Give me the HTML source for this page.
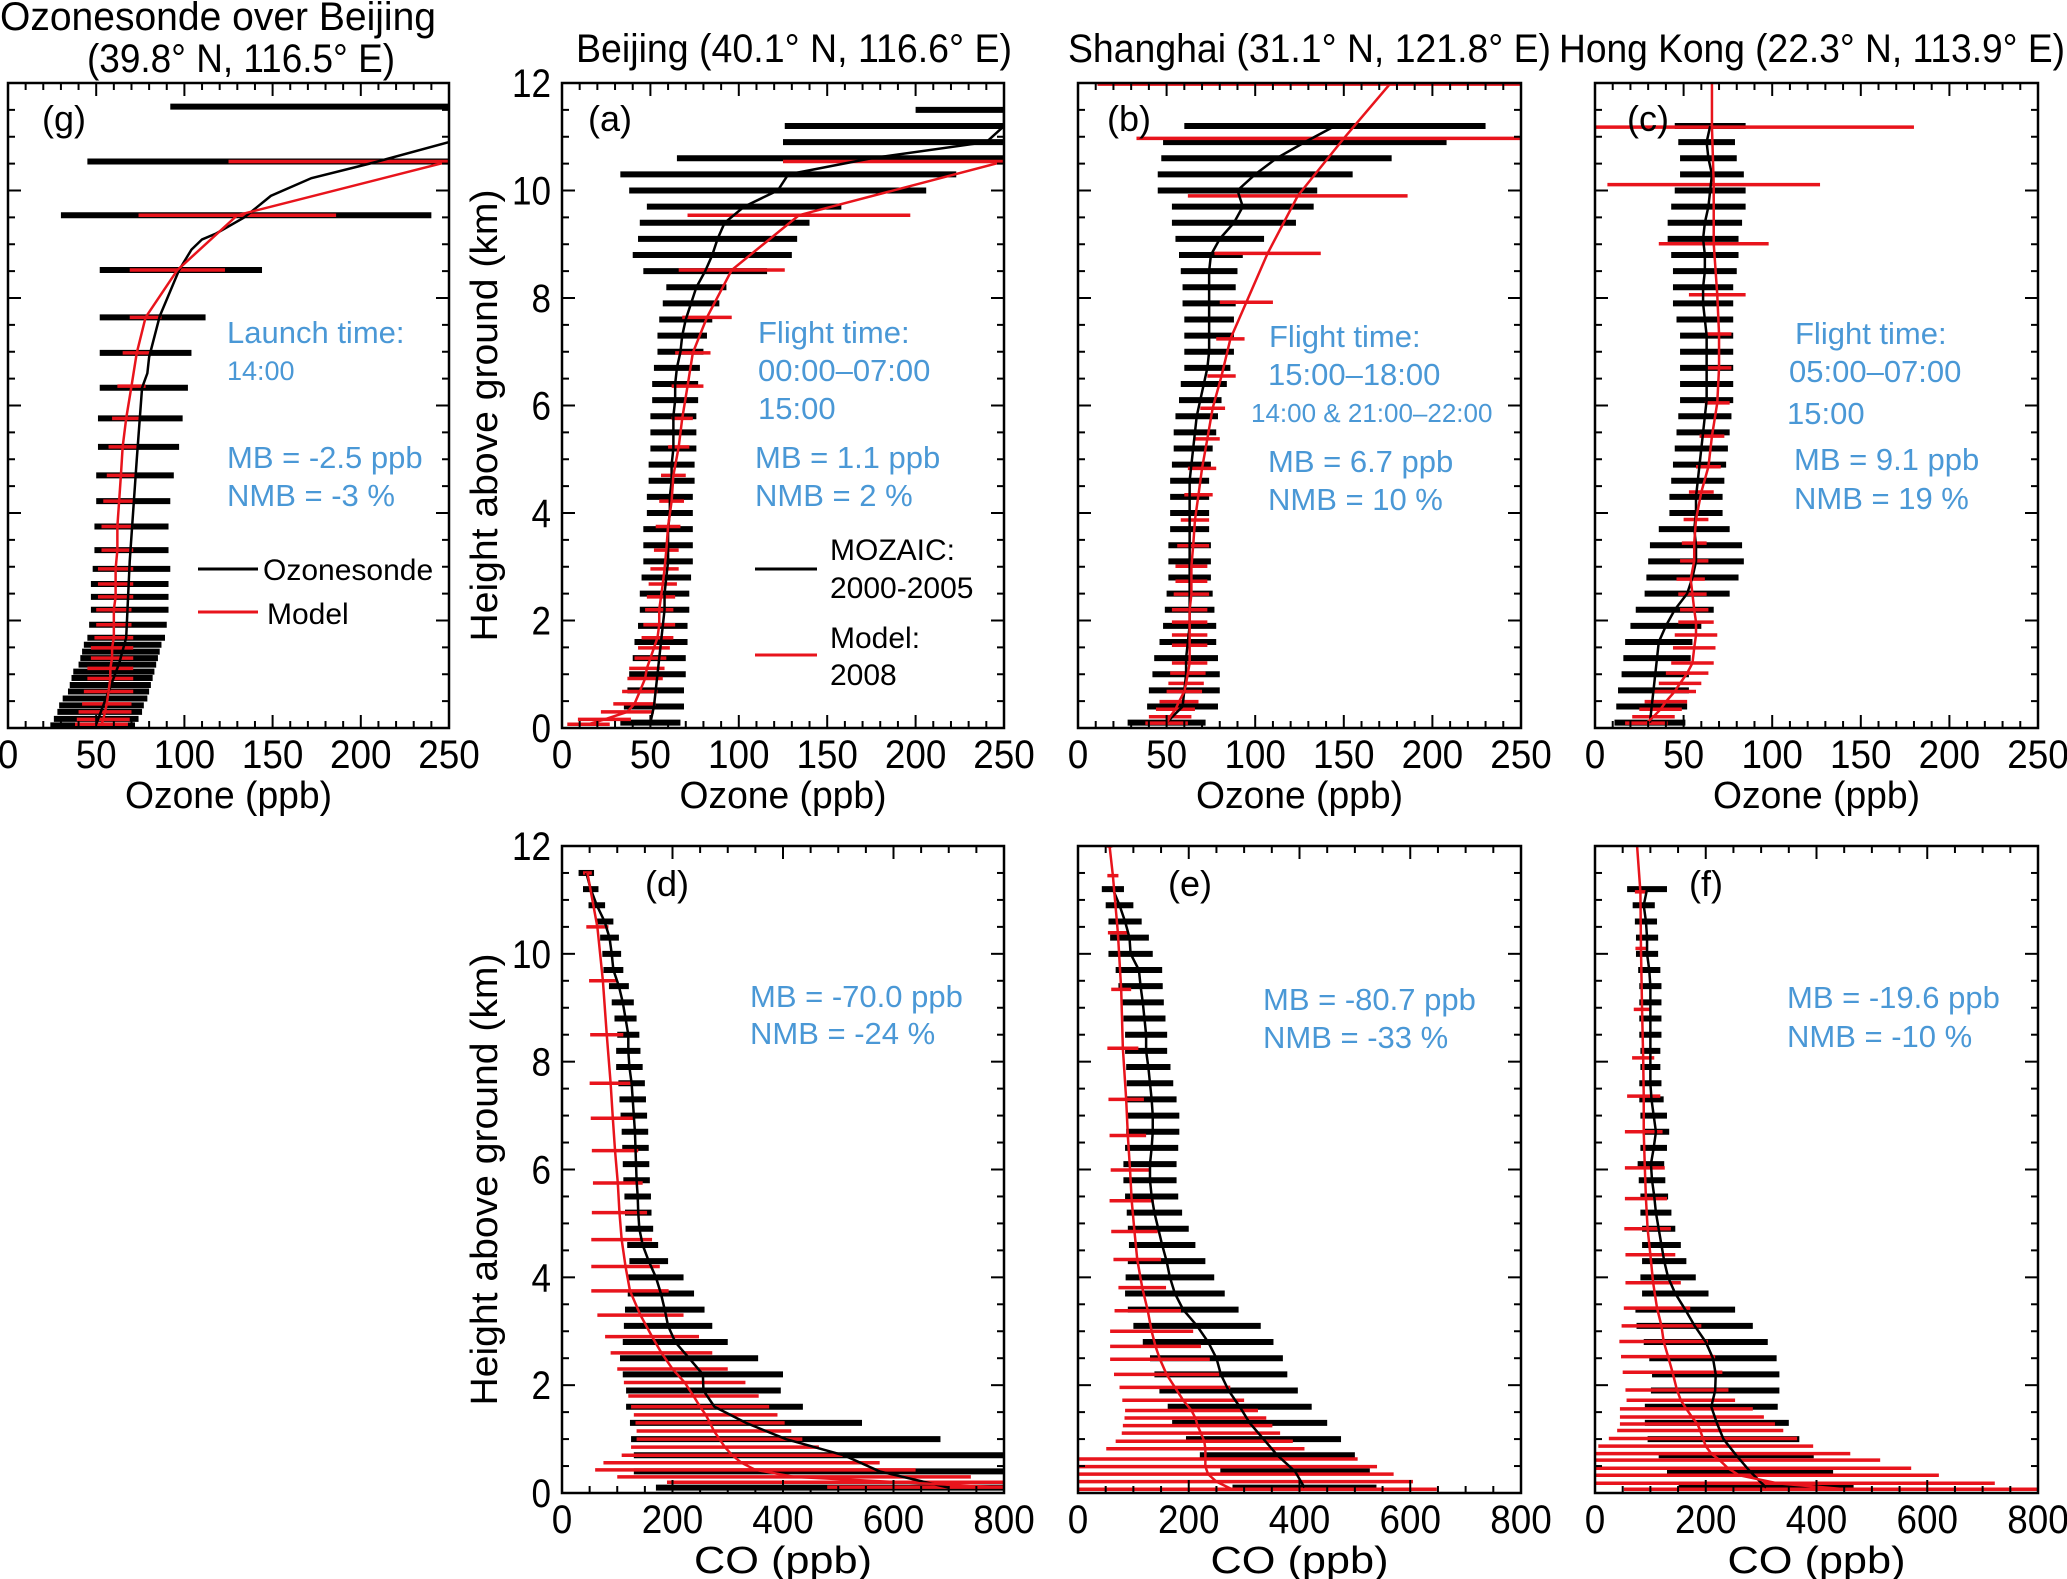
<!DOCTYPE html>
<html><head><meta charset="utf-8"><title>Ozone and CO profiles</title>
<style>
html,body{margin:0;padding:0;background:#fff;}
svg{display:block;font-family:"Liberation Sans",Arial,sans-serif;}
</style></head>
<body>
<svg id="chart" xmlns="http://www.w3.org/2000/svg" width="2067" height="1579" viewBox="0 0 2067 1579">
<rect x="0" y="0" width="2067" height="1579" fill="#fff"/>
<g id="titles" font-size="40" fill="#000">
<text x="0" y="30" textLength="436" lengthAdjust="spacingAndGlyphs">Ozonesonde over Beijing</text>
<text x="87" y="72" textLength="308" lengthAdjust="spacingAndGlyphs">(39.8° N, 116.5° E)</text>
<text x="576" y="62" textLength="436" lengthAdjust="spacingAndGlyphs">Beijing (40.1° N, 116.6° E)</text>
<text x="1068" y="62" textLength="483" lengthAdjust="spacingAndGlyphs">Shanghai (31.1° N, 121.8° E)</text>
<text x="1559" y="62" textLength="506" lengthAdjust="spacingAndGlyphs">Hong Kong (22.3° N, 113.9° E)</text>
</g>
<g id="panels"></g>
<g id="annotations" font-size="31" fill="#4a98d6">
<text x="227" y="343">Launch time:</text>
<text x="227" y="380" font-size="27">14:00</text>
<text x="227" y="468">MB = -2.5 ppb</text>
<text x="227" y="506">NMB = -3 %</text>
<text x="758" y="343">Flight time:</text>
<text x="758" y="381">00:00–07:00</text>
<text x="758" y="419">15:00</text>
<text x="755" y="468">MB = 1.1 ppb</text>
<text x="755" y="506">NMB = 2 %</text>
<text x="1269" y="347">Flight time:</text>
<text x="1268" y="385">15:00–18:00</text>
<text x="1251" y="422" font-size="26">14:00 &amp; 21:00–22:00</text>
<text x="1268" y="472">MB = 6.7 ppb</text>
<text x="1268" y="510">NMB = 10 %</text>
<text x="1795" y="344">Flight time:</text>
<text x="1789" y="382">05:00–07:00</text>
<text x="1787" y="424">15:00</text>
<text x="1794" y="470">MB = 9.1 ppb</text>
<text x="1794" y="509">NMB = 19 %</text>
<text x="750" y="1007">MB = -70.0 ppb</text>
<text x="750" y="1044">NMB = -24 %</text>
<text x="1263" y="1010">MB = -80.7 ppb</text>
<text x="1263" y="1048">NMB = -33 %</text>
<text x="1787" y="1008">MB = -19.6 ppb</text>
<text x="1787" y="1047">NMB = -10 %</text>
</g>
<g id="legends" font-size="30" fill="#000">
<line x1="198" y1="569" x2="258" y2="569" stroke="#000" stroke-width="3"/>
<text x="263" y="580">Ozonesonde</text>
<line x1="198" y1="612" x2="258" y2="612" stroke="#e8141c" stroke-width="3"/>
<text x="267" y="624">Model</text>
<line x1="755" y1="569" x2="817" y2="569" stroke="#000" stroke-width="3"/>
<text x="830" y="560">MOZAIC:</text>
<text x="830" y="598">2000-2005</text>
<line x1="755" y1="655" x2="817" y2="655" stroke="#e8141c" stroke-width="3"/>
<text x="830" y="648">Model:</text>
<text x="830" y="685">2008</text>
</g>
</svg>
<script>
// ---------- data ----------
const gridA = [0.1,0.4,0.7,1.0,1.3,1.6,1.9,2.2,2.5,2.8,3.1,3.4,3.7,4.0,4.3,4.6,4.9,5.2,5.5,5.8,6.1,6.4,6.7,7.0,7.3,7.6,7.9,8.2,8.5,8.8,9.1,9.4,9.7,10.0,10.3,10.6,10.9,11.2,11.5];
const gridB = [0.1,0.4,0.7,1.0,1.3,1.6,1.9,2.2,2.5,2.8,3.1,3.4,3.7,4.0,4.3,4.6,4.9,5.2,5.5,5.8,6.1,6.4,6.7,7.0,7.3,7.6,7.9,8.2,8.5,8.8,9.1,9.4,9.7,10.0,10.3,10.6,10.9,11.2];

// (g) ozonesonde
const gObsH = [0.05,0.17,0.3,0.42,0.55,0.68,0.8,0.93,1.05,1.18,1.3,1.42,1.55,1.68,1.92,2.2,2.44,2.68,2.96,3.31,3.75,4.22,4.7,5.23,5.76,6.33,6.98,7.64,8.52,9.54,10.54,11.56];
const gObsMean = [48,50,52,53,55,57,58,59,60,62,63,64,65,67,68,69,69,69,70,70,70,71,72,74,75,77,78,82,98,135,155,200];
const gObsSd = [24,24,24,24,24,23,23,23,23,22,22,22,22,22,22,22,22,22,22,21,21,21,22,23,24,25,26,30,46,105,110,108];
const gLineH = [0.07,1.2,1.68,3.1,5.0,6.33,6.6,6.9,7.66,8.52,8.9,9.09,9.2,9.5,9.9,10.23,10.5,10.9];
const gLineV = [50,63,67,69,73,76,79,80,86,97,104,110,118,134,149,172,205,250];
const gModH = [0.07,0.16,0.3,0.45,0.68,0.92,1.11,1.3,1.49,1.68,1.92,2.2,2.44,2.68,2.96,3.31,3.75,4.22,4.7,5.23,5.76,6.36,6.98,7.64,8.52,9.54,10.54];
const gModMean = [53,54,55,56,57,58,58,59,59,60,60,60,61,61,61,62,62,63,64,65,67,70,73,78,96,130,250];
const gModSd = [15,15,15,14,14,13,13,12,12,11,10,10,10,10,10,9,9,9,8,8,8,8,8,9,27,56,125];

// (a) Beijing ozone
const aObsMean = [50,52,53,54,55,56,57,58,58,59,60,60,60,61,61,62,62,63,63,63,64,64,65,67,68,70,73,76,81,85,88,92,103,122,128,175,240,250,250];
const aObsSd = [17,17,16,16,15,15,14,14,14,14,14,14,14,13,13,13,13,13,13,13,13,13,13,13,14,15,16,17,35,45,45,48,55,84,95,110,115,124,50];
const aModH = [0.07,0.16,0.3,0.45,0.68,0.92,1.11,1.3,1.49,1.68,1.92,2.2,2.44,2.68,2.96,3.31,3.75,4.22,4.7,5.23,5.76,6.36,6.98,7.64,8.52,9.54,10.54];
const aModMean = [15,24,37,41,44,47,48,50,52,54,55,55,56,57,58,59,60,62,63,66,68,71,74,82,96,134,250];
const aModSd = [12,15,15,12,10,10,10,9,9,9,9,8,8,8,8,7,7,7,7,6,6,9,10,14,30,63,125];

// (b) Shanghai ozone
const bObsMean = [50,59,60,61,61,62,63,63,63,63,63,63,63,63,63,63,64,65,66,67,69,71,73,74,74,74,74,74,74,75,80,88,93,90,100,112,128,145];
const bObsSd = [22,20,20,19,18,16,15,14,13,12,12,12,11,11,11,11,11,11,12,12,12,13,13,14,14,14,15,15,16,18,25,35,40,45,55,65,80,85];
const bModH = [0.09,0.21,0.35,0.49,0.68,0.83,1.02,1.21,1.54,1.73,1.97,2.2,2.49,2.73,3.01,3.39,3.87,4.34,4.83,5.38,5.95,6.55,7.24,7.92,8.83,9.9,10.97,11.98];
const bModMean = [50,52,55,57,60,61,62,63,63,63,63,63,64,64,64,65,66,68,70,73,76,81,86,95,107,124,150,176];
const bModSd = [12,12,11,11,10,10,10,10,10,10,10,10,10,9,9,9,8,8,8,7,7,8,8,15,30,62,117,165];

// (c) Hong Kong ozone
const cObsMean = [31,32,33,34,35,36,40,45,52,55,57,57,56,57,57,58,59,60,61,62,63,63,63,63,63,62,61,61,62,62,61,62,64,65,66,64,63,65];
const cObsSd = [20,20,20,19,19,19,20,22,24,26,27,26,20,15,15,15,15,15,15,15,15,15,15,15,15,16,17,17,18,19,20,21,21,20,18,16,16,20];
const cModH = [0.09,0.21,0.35,0.49,0.68,0.83,1.02,1.21,1.49,1.73,1.97,2.2,2.49,2.77,3.11,3.44,3.88,4.39,4.86,5.43,6.05,6.7,7.33,8.06,9.01,10.11,11.18,12.0];
const cModMean = [29,33,37,40,45,48,52,55,56,57,57,56,55,54,56,56,57,60,64,66,69,70,70,69,67,67,66,66];
const cModSd = [12,12,12,12,12,12,12,12,12,12,10,8,8,8,8,7,7,7,7,7,7,7,7,16,31,60,114,0];

// (d) Beijing CO
const dObsMean = [700,575,510,405,333,276,256,255,230,205,192,186,179,170,157,146,140,138,137,135,134,133,132,130,128,126,122,120,120,115,110,103,93,90,86,77,63,52,44];
const dObsSd = [530,445,380,280,210,160,140,145,125,95,80,72,60,50,35,28,25,24,24,24,24,24,24,24,24,24,24,22,20,20,20,18,18,17,17,16,15,14,14];
const dModH = [0.11,0.2,0.3,0.43,0.56,0.7,0.85,1.0,1.15,1.3,1.45,1.6,1.8,2.05,2.3,2.6,2.9,3.3,3.75,4.2,4.7,5.2,5.75,6.35,6.95,7.6,8.5,9.5,10.5,11.5];
const dModMean = [790,610,420,350,325,308,295,285,275,268,260,250,238,222,200,180,163,142,123,115,108,104,101,96,92,88,81,74,64,46];
const dModSd = [310,420,320,290,250,200,170,150,140,135,130,125,118,110,100,92,85,78,70,62,55,50,45,42,40,38,30,25,20,8];

// (e) Shanghai CO
const eObsMean = [409,392,360,335,310,292,272,258,250,235,215,190,175,166,160,152,145,138,133,130,130,133,135,135,133,130,127,123,123,120,117,113,110,95,93,85,75,63];
const eObsSd = [130,135,140,140,140,130,125,120,120,118,115,100,90,80,70,60,55,50,48,48,48,48,48,48,45,42,40,38,38,38,38,40,42,40,35,30,25,20];
const eModH = [0.07,0.21,0.35,0.49,0.63,0.82,0.96,1.11,1.25,1.39,1.53,1.72,1.96,2.2,2.48,2.72,3.0,3.38,3.81,4.33,4.85,5.42,5.99,6.63,7.3,8.25,9.34,10.39,11.45,12.0];
const eModMean = [278,250,235,230,230,230,228,222,216,212,205,190,175,160,148,140,133,126,116,107,102,97,94,90,87,81,78,72,63,57];
const eModSd = [370,355,335,310,275,179,160,143,135,128,120,110,100,95,90,82,75,60,43,43,42,40,35,33,32,28,18,18,10,5];

// (f) Hong Kong CO
const fObsMean = [309,280,255,232,220,210,217,218,213,200,180,163,145,132,125,120,115,110,107,103,101,106,110,106,102,100,100,100,100,100,100,100,98,94,94,92,88,94];
const fObsSd = [158,150,140,137,130,120,116,115,115,112,105,90,60,50,40,35,30,28,25,24,24,24,24,24,22,20,18,18,20,20,20,20,20,20,20,20,20,36];
const fModH = [0.07,0.18,0.33,0.46,0.61,0.73,0.87,1.01,1.16,1.28,1.41,1.56,1.72,1.91,2.24,2.53,2.81,3.1,3.43,3.9,4.42,4.9,5.46,6.03,6.7,7.36,8.07,8.97,10.1,11.15,12.0];
const fModMean = [452,330,260,240,225,210,200,195,190,185,175,165,155,148,140,132,124,120,112,105,100,95,92,90,88,88,87,85,83,82,76];
const fModSd = [400,392,361,331,290,251,194,170,150,140,130,120,98,93,90,85,80,72,60,50,45,42,38,36,34,30,20,15,10,10,0];

const ozoneTicks = ["0","50","100","150","200","250"];
const coTicks = ["0","200","400","600","800"];
const heightTicks = ["0","2","4","6","8","10","12"];

// ---------- drawing ----------
const NS = "http://www.w3.org/2000/svg";
const root = document.getElementById("panels");
const RED = "#e8141c";
function mk(tag, attrs, parent){
  const e = document.createElementNS(NS, tag);
  for (const k in attrs) e.setAttribute(k, attrs[k]);
  (parent||root).appendChild(e);
  return e;
}
const TOP = {y0:83, y1:728}, BOT = {y0:846, y1:1493};
const panels = [
  {id:"g", x0:8, x1:449, row:TOP, xmax:250, minor:10, ticks:ozoneTicks, xlab:"Ozone (ppb)", obsH:gObsH, obsM:gObsMean, obsS:gObsSd, lineH:gLineH, lineV:gLineV, modH:gModH, modM:gModMean, modS:gModSd, letter:"(g)", lx:34, ly:48, ylab:false},
  {id:"a", x0:562, x1:1004, row:TOP, xmax:250, minor:10, ticks:ozoneTicks, xlab:"Ozone (ppb)", obsH:gridA, obsM:aObsMean, obsS:aObsSd, modH:aModH, modM:aModMean, modS:aModSd, letter:"(a)", lx:26, ly:48, ylab:true},
  {id:"b", x0:1078, x1:1521, row:TOP, xmax:250, minor:10, ticks:ozoneTicks, xlab:"Ozone (ppb)", obsH:gridB, obsM:bObsMean, obsS:bObsSd, modH:bModH, modM:bModMean, modS:bModSd, letter:"(b)", lx:29, ly:48, ylab:false},
  {id:"c", x0:1595, x1:2038, row:TOP, xmax:250, minor:10, ticks:ozoneTicks, xlab:"Ozone (ppb)", obsH:gridB, obsM:cObsMean, obsS:cObsSd, modH:cModH, modM:cModMean, modS:cModSd, letter:"(c)", lx:32, ly:48, ylab:false},
  {id:"d", x0:562, x1:1004, row:BOT, xmax:800, minor:50, ticks:coTicks, xlab:"CO (ppb)", obsH:gridA, obsM:dObsMean, obsS:dObsSd, modH:dModH, modM:dModMean, modS:dModSd, letter:"(d)", lx:83, ly:50, ylab:true},
  {id:"e", x0:1078, x1:1521, row:BOT, xmax:800, minor:50, ticks:coTicks, xlab:"CO (ppb)", obsH:gridB, obsM:eObsMean, obsS:eObsSd, modH:eModH, modM:eModMean, modS:eModSd, letter:"(e)", lx:90, ly:50, ylab:false},
  {id:"f", x0:1595, x1:2038, row:BOT, xmax:800, minor:50, ticks:coTicks, xlab:"CO (ppb)", obsH:gridB, obsM:fObsMean, obsS:fObsSd, modH:fModH, modM:fModMean, modS:fModSd, letter:"(f)", lx:94, ly:50, ylab:false}
];

panels.forEach(p => {
  const y0 = p.row.y0, y1 = p.row.y1;
  const X = v => p.x0 + (v / p.xmax) * (p.x1 - p.x0);
  const Y = h => y1 - (h / 12) * (y1 - y0);
  const g = mk("g", {});
  
  
  const clip = mk("clipPath", {id:"clip-" + p.id}, g);
  mk("rect", {x:p.x0, y:y0, width:p.x1-p.x0, height:y1-y0}, clip);
  const plot = mk("g", {"clip-path":"url(#clip-" + p.id + ")"}, g);

  p.obsH.forEach((h, i) => {
    const m = p.obsM[i], s = p.obsS[i];
    const l = mk("line", {x1:X(m - s), x2:X(m + s), y1:Y(h), y2:Y(h), stroke:"#000", "stroke-width":6}, plot);
    
    
  });
  p.modH.forEach((h, i) => {
    const m = p.modM[i], s = p.modS[i];
    if (s <= 0) return;
    const l = mk("line", {x1:X(m - s), x2:X(m + s), y1:Y(h), y2:Y(h), stroke:RED, "stroke-width":3.5}, plot);
    
    
  });
  const lh = p.lineH || p.obsH, lv = p.lineV || p.obsM;
  const op = mk("polyline", {points: lh.map((h, i) => X(lv[i]) + "," + Y(h)).join(" "), fill:"none", stroke:"#000", "stroke-width":2.5}, plot);
  
  
  const mp = mk("polyline", {points: p.modH.map((h, i) => X(p.modM[i]) + "," + Y(h)).join(" "), fill:"none", stroke:RED, "stroke-width":2.5}, plot);
  
  

  const fr = mk("rect", {x:p.x0, y:y0, width:p.x1-p.x0, height:y1-y0, fill:"none", stroke:"#000", "stroke-width":2.5}, g);
  
  

  const tg = mk("g", {stroke:"#000", "stroke-width":2}, g);
  const majorStep = p.xmax / (p.ticks.length - 1);
  for (let v = 0; v <= p.xmax + 0.001; v += p.minor) {
    const major = Math.abs(v / majorStep - Math.round(v / majorStep)) < 1e-6;
    const len = major ? 13 : 7;
    mk("line", {x1:X(v), x2:X(v), y1:y1, y2:y1 - len}, tg);
    mk("line", {x1:X(v), x2:X(v), y1:y0, y2:y0 + len}, tg);
  }
  for (let h = 0; h <= 12.001; h += 0.5) {
    const major = Math.abs(h / 2 - Math.round(h / 2)) < 1e-6;
    const len = major ? 13 : 7;
    mk("line", {x1:p.x0, x2:p.x0 + len, y1:Y(h), y2:Y(h)}, tg);
    mk("line", {x1:p.x1, x2:p.x1 - len, y1:Y(h), y2:Y(h)}, tg);
  }
  const baseY = y1 + 40;
  p.ticks.forEach((t, i) => {
    const tx = mk("text", {x:X(i * majorStep), y:baseY, "text-anchor":"middle", "font-size":40, textLength:t.length * 20.5, lengthAdjust:"spacingAndGlyphs"}, g);
    tx.textContent = t;
    
    
  });
  const xl = mk("text", {x:(p.x0 + p.x1) / 2, y:y1 + 80, "text-anchor":"middle", "font-size":38, textLength:p.xlab.length > 9 ? 207 : 178, lengthAdjust:"spacingAndGlyphs"}, g);
  xl.textContent = p.xlab;
  
  

  if (p.ylab) {
    heightTicks.forEach((t, i) => {
      const ty = mk("text", {x:551, y:Y(i * 2) + 14, "text-anchor":"end", "font-size":40, textLength:t.length * 19.5, lengthAdjust:"spacingAndGlyphs"}, g);
      ty.textContent = t;
      
      
    });
    const cy = (y0 + y1) / 2 + 10;
    const yl = mk("text", {x:0, y:0, "text-anchor":"middle", "font-size":38, textLength:452, lengthAdjust:"spacingAndGlyphs", transform:"translate(497," + cy + ") rotate(-90)"}, g);
    yl.textContent = "Height above ground (km)";
    
    
  }
  const lt = mk("text", {x:p.x0 + p.lx, y:y0 + p.ly, "font-size":36}, g);
  lt.textContent = p.letter;
  
  
});
</script>
</body></html>
